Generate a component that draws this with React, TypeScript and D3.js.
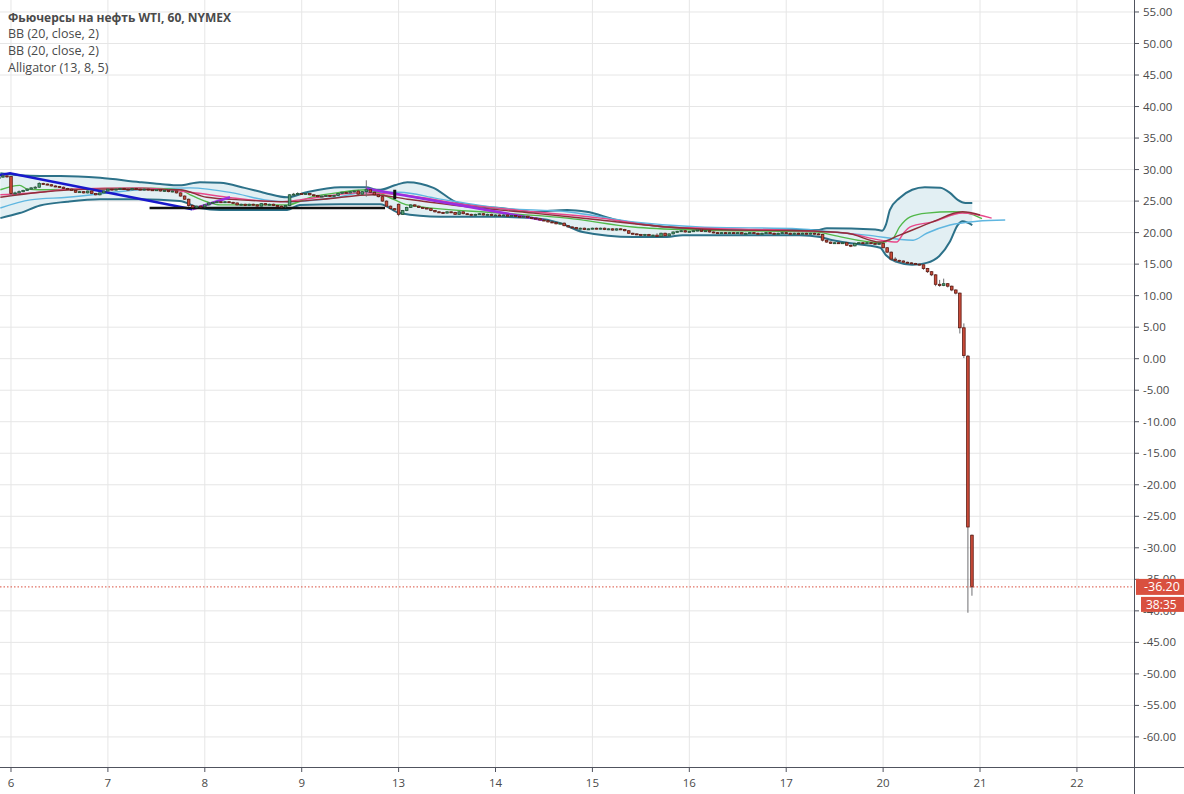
import React from 'react';
import * as d3 from 'd3';

// candles are [open, high, low, close], one per hour
const candlesApr05 = [
  [28.6, 29.0, 28.5, 28.8], [28.8, 29.2, 28.7, 29.0], [29.0, 29.1, 28.7, 28.9],
];
const candlesApr06 = [
  [28.9, 28.9, 25.8, 26.2], [26.2, 26.5, 26.0, 26.3], [26.3, 26.7, 26.2, 26.5], [26.5, 26.8, 26.4, 26.7],
  [26.7, 27.0, 26.6, 26.9], [26.9, 27.2, 26.8, 27.1], [27.1, 27.4, 27.0, 27.2], [27.2, 28.0, 27.1, 27.8],
  [27.8, 27.9, 27.6, 27.7], [27.7, 27.8, 27.5, 27.6], [27.6, 27.7, 27.3, 27.4], [27.4, 27.5, 27.2, 27.3],
  [27.3, 27.4, 27.1, 27.2], [27.2, 27.3, 26.9, 27.0], [27.0, 27.1, 26.8, 26.9], [26.9, 27.0, 26.6, 26.7],
  [26.7, 26.8, 26.3, 26.4], [26.4, 26.6, 26.3, 26.5], [26.5, 26.6, 26.2, 26.3], [26.3, 26.7, 26.2, 26.6],
  [26.6, 26.7, 26.1, 26.2], [26.2, 26.3, 25.9, 26.0], [26.0, 26.4, 25.9, 26.3], [26.3, 26.7, 26.2, 26.6],
];
const candlesApr07 = [
  [26.6, 27.0, 26.5, 26.9], [26.9, 27.0, 26.7, 26.8], [26.8, 27.0, 26.7, 26.9], [26.9, 27.1, 26.8, 27.0],
  [27.0, 27.1, 26.8, 26.9], [26.9, 27.0, 26.7, 26.8], [26.8, 27.1, 26.7, 27.0], [27.0, 27.1, 26.8, 26.9],
  [26.9, 27.0, 26.7, 26.8], [26.8, 27.0, 26.7, 26.9], [26.9, 27.0, 26.7, 26.8], [26.8, 26.9, 26.6, 26.7],
  [26.7, 26.9, 26.6, 26.8], [26.8, 26.9, 26.5, 26.6], [26.6, 26.8, 26.5, 26.7], [26.7, 26.8, 26.4, 26.5],
  [26.5, 26.7, 26.4, 26.6], [26.6, 26.7, 26.2, 26.3], [26.3, 26.4, 25.7, 25.8], [25.8, 25.9, 25.2, 25.3],
  [25.3, 25.4, 24.1, 24.3], [24.3, 24.5, 23.9, 24.0], [24.0, 24.3, 23.9, 24.2], [24.2, 24.3, 24.0, 24.1],
];
const candlesApr08 = [
  [24.1, 24.5, 24.0, 24.4], [24.4, 24.8, 24.3, 24.7], [24.7, 24.9, 24.6, 24.8], [24.8, 25.0, 24.7, 24.9],
  [24.9, 25.0, 24.7, 24.8], [24.8, 25.0, 24.7, 24.9], [24.9, 25.0, 24.7, 24.8], [24.8, 24.9, 24.6, 24.7],
  [24.7, 24.8, 24.3, 24.4], [24.4, 24.6, 24.3, 24.5], [24.5, 24.6, 24.2, 24.3], [24.3, 24.6, 24.2, 24.5],
  [24.5, 24.6, 24.3, 24.4], [24.4, 24.5, 24.1, 24.2], [24.2, 24.7, 24.1, 24.6], [24.6, 24.7, 24.3, 24.4],
  [24.4, 24.6, 24.3, 24.5], [24.5, 24.6, 24.2, 24.3], [24.3, 24.4, 24.1, 24.2], [24.2, 24.3, 24.0, 24.1],
  [24.1, 24.4, 24.0, 24.3], [24.3, 26.1, 24.2, 26.0], [26.0, 26.3, 25.9, 26.1], [26.1, 26.4, 26.0, 26.2],
];
const candlesApr09 = [
  [26.2, 26.3, 26.0, 26.1], [26.1, 26.3, 26.0, 26.2], [26.2, 26.3, 25.9, 26.0], [26.0, 26.1, 25.8, 25.9],
  [25.9, 26.0, 25.6, 25.7], [25.7, 25.9, 25.6, 25.8], [25.8, 26.0, 25.7, 25.9], [25.9, 26.0, 25.7, 25.8],
  [25.8, 26.0, 25.7, 25.9], [25.9, 26.3, 25.8, 26.2], [26.2, 26.5, 26.1, 26.4], [26.4, 26.5, 26.2, 26.3],
  [26.3, 26.6, 26.2, 26.5], [26.5, 26.7, 26.4, 26.6], [26.6, 26.8, 26.0, 26.1], [26.1, 26.6, 26.0, 26.5],
  [26.5, 28.3, 25.7, 26.8], [26.8, 26.9, 26.3, 26.4], [26.4, 26.5, 25.9, 26.0], [26.0, 26.1, 25.6, 25.7],
  [25.7, 25.8, 24.9, 25.0], [25.0, 25.1, 24.1, 24.2], [24.2, 24.3, 23.7, 23.8], [23.8, 23.9, 23.5, 23.6],
];
const candlesApr13 = [
  [24.5, 24.6, 22.6, 22.9], [22.9, 23.6, 22.8, 23.5], [23.5, 24.1, 23.4, 24.0], [24.0, 24.5, 23.9, 24.4],
  [24.4, 24.5, 24.1, 24.2], [24.2, 24.3, 23.9, 24.0], [24.0, 24.1, 23.8, 23.9], [23.9, 24.0, 23.7, 23.8],
  [23.8, 23.9, 23.4, 23.5], [23.5, 23.6, 23.2, 23.3], [23.3, 23.4, 23.1, 23.2], [23.2, 23.3, 23.0, 23.1],
  [23.1, 23.4, 23.0, 23.3], [23.3, 23.4, 23.1, 23.2], [23.2, 23.3, 22.8, 22.9], [22.9, 23.4, 22.8, 23.3],
  [23.3, 23.4, 22.9, 23.0], [23.0, 23.1, 22.8, 22.9], [22.9, 23.0, 22.7, 22.8], [22.8, 23.0, 22.7, 22.9],
  [22.9, 23.1, 22.8, 23.0], [23.0, 23.1, 22.7, 22.8], [22.8, 23.0, 22.7, 22.9], [22.9, 23.0, 22.6, 22.7],
];
const candlesApr14 = [
  [22.7, 22.9, 22.6, 22.8], [22.8, 22.9, 22.6, 22.7], [22.7, 22.9, 22.6, 22.8], [22.8, 22.9, 22.5, 22.6],
  [22.6, 22.8, 22.5, 22.7], [22.7, 22.8, 22.5, 22.6], [22.6, 22.7, 22.4, 22.5], [22.5, 22.7, 22.4, 22.6],
  [22.6, 22.7, 22.3, 22.4], [22.4, 22.5, 22.2, 22.3], [22.3, 22.4, 22.1, 22.2], [22.2, 22.3, 21.9, 22.0],
  [22.0, 22.1, 21.8, 21.9], [21.9, 22.0, 21.6, 21.7], [21.7, 21.8, 21.5, 21.6], [21.6, 21.7, 21.3, 21.4],
  [21.4, 21.6, 21.3, 21.5], [21.5, 21.6, 21.0, 21.1], [21.1, 21.2, 20.8, 20.9], [20.9, 21.0, 20.7, 20.8],
  [20.8, 20.9, 20.5, 20.6], [20.6, 20.8, 20.5, 20.7], [20.7, 20.8, 20.4, 20.5], [20.5, 20.7, 20.4, 20.6],
];
const candlesApr15 = [
  [20.6, 20.8, 20.5, 20.7], [20.7, 20.8, 20.5, 20.6], [20.6, 20.8, 20.5, 20.7], [20.7, 20.8, 20.4, 20.5],
  [20.5, 20.7, 20.4, 20.6], [20.6, 20.7, 20.3, 20.4], [20.4, 20.7, 20.3, 20.6], [20.6, 20.7, 20.4, 20.5],
  [20.5, 20.6, 20.2, 20.3], [20.3, 20.4, 19.8, 19.9], [19.9, 20.0, 19.7, 19.8], [19.8, 19.9, 19.6, 19.7],
  [19.7, 19.8, 19.5, 19.6], [19.6, 19.8, 19.5, 19.7], [19.7, 19.8, 19.4, 19.5], [19.5, 19.7, 19.4, 19.6],
  [19.6, 19.9, 19.3, 19.4], [19.4, 20.0, 19.3, 19.9], [19.9, 20.0, 19.4, 19.5], [19.5, 19.9, 19.4, 19.8],
  [19.8, 20.2, 19.7, 20.1], [20.1, 20.3, 20.0, 20.2], [20.2, 20.4, 20.1, 20.3], [20.3, 20.4, 20.0, 20.1],
];
const candlesApr16 = [
  [20.1, 20.3, 20.0, 20.2], [20.2, 20.4, 20.1, 20.3], [20.3, 20.5, 20.2, 20.4], [20.4, 20.5, 20.1, 20.2],
  [20.2, 20.4, 20.1, 20.3], [20.3, 20.4, 20.0, 20.1], [20.1, 20.2, 19.9, 20.0], [20.0, 20.1, 19.8, 19.9],
  [19.9, 20.1, 19.8, 20.0], [20.0, 20.1, 19.8, 19.9], [19.9, 20.1, 19.8, 20.0], [20.0, 20.1, 19.8, 19.9],
  [19.9, 20.1, 19.8, 20.0], [20.0, 20.1, 19.7, 19.8], [19.8, 20.0, 19.7, 19.9], [19.9, 20.1, 19.8, 20.0],
  [20.0, 20.1, 19.8, 19.9], [19.9, 20.0, 19.7, 19.8], [19.8, 20.0, 19.7, 19.9], [19.9, 20.1, 19.8, 20.0],
  [20.0, 20.1, 19.8, 19.9], [19.9, 20.0, 19.7, 19.8], [19.8, 20.0, 19.7, 19.9], [19.9, 20.1, 19.8, 20.0],
];
const candlesApr17 = [
  [20.0, 20.1, 19.8, 19.9], [19.9, 20.0, 19.7, 19.8], [19.8, 20.0, 19.7, 19.9], [19.9, 20.0, 19.7, 19.8],
  [19.8, 20.0, 19.7, 19.9], [19.9, 20.0, 19.7, 19.8], [19.8, 20.0, 19.7, 19.9], [19.9, 20.0, 19.7, 19.8],
  [19.8, 19.9, 19.6, 19.7], [19.7, 19.8, 18.6, 18.8], [18.8, 18.9, 18.4, 18.5], [18.5, 18.6, 18.2, 18.3],
  [18.3, 18.5, 18.2, 18.4], [18.4, 18.5, 18.2, 18.3], [18.3, 18.5, 18.2, 18.4], [18.4, 18.5, 17.9, 18.0],
  [18.0, 18.1, 17.7, 17.9], [17.9, 18.4, 17.8, 18.3], [18.3, 18.5, 18.2, 18.4], [18.4, 18.5, 18.2, 18.3],
  [18.3, 18.5, 18.2, 18.4], [18.4, 18.5, 18.2, 18.3], [18.3, 18.4, 18.1, 18.2], [18.2, 18.4, 18.1, 18.3],
];
const candlesApr20 = [
  [18.3, 18.3, 17.5, 17.6], [17.6, 17.7, 16.8, 16.9], [16.9, 17.0, 15.6, 15.8], [15.8, 16.1, 15.3, 15.6],
  [15.6, 15.7, 15.3, 15.5], [15.5, 15.6, 15.2, 15.3], [15.3, 15.4, 15.1, 15.2], [15.2, 15.3, 15.0, 15.1],
  [15.1, 15.2, 14.9, 15.0], [15.0, 15.1, 14.8, 14.9], [14.9, 15.0, 14.1, 14.3], [14.3, 14.4, 13.6, 13.8],
  [13.8, 13.9, 13.1, 13.3], [13.3, 13.4, 11.5, 11.8], [11.8, 12.5, 11.4, 11.6], [11.6, 12.7, 11.5, 11.9],
  [11.9, 12.0, 11.3, 11.5], [11.5, 11.6, 10.7, 10.9], [10.9, 11.0, 10.2, 10.4], [10.4, 10.5, 4.0, 4.9],
  [4.9, 5.6, 0.1, 0.5], [0.4, 0.6, -40.3, -26.7], [-28.0, -27.9, -37.6, -36.2],
];

// day labels on the time axis (index = slot on the axis)
const dayLabels = ['6', '7', '8', '9', '13', '14', '15', '16', '17', '20', '21', '22'];
const sessions: [number, number, number[][]][] = [
  [-1, 21, candlesApr05],
  [0, 0, candlesApr06],
  [1, 0, candlesApr07],
  [2, 0, candlesApr08],
  [3, 0, candlesApr09],
  [4, 0, candlesApr13],
  [5, 0, candlesApr14],
  [6, 0, candlesApr15],
  [7, 0, candlesApr16],
  [8, 0, candlesApr17],
  [9, 0, candlesApr20],
];

const priceTicks = d3.range(-60, 56, 5);
const lastPrice = -36.2;
const countdown = '38:35';

// indicator values: [time in day slots, price]
const bbUpper = [
  [-0.11, 29.4], [0.09, 29.1], [0.3, 29.0], [0.51, 29.0], [0.92, 28.7], [1.33, 28.0], [1.54, 27.7],
  [1.74, 27.5], [1.95, 28.0], [2.16, 27.9], [2.41, 27.1], [2.62, 26.3], [2.85, 25.6], [3.05, 26.4],
  [3.4, 27.2], [3.67, 27.2], [3.74, 26.9], [3.81, 26.8], [3.96, 27.5], [4.09, 28.0], [4.36, 27.1],
  [4.6, 24.8], [4.87, 24.1], [5.05, 23.9], [5.39, 23.3], [5.74, 23.6], [5.94, 23.3], [6.25, 22.0],
  [6.59, 21.2], [6.93, 20.7], [7.45, 20.4], [8.32, 20.4], [8.42, 20.7], [8.92, 20.5], [8.99, 20.3],
  [9.03, 21.3], [9.07, 23.6], [9.17, 25.5], [9.3, 26.8], [9.43, 27.2], [9.59, 27.1], [9.69, 26.3],
  [9.77, 25.2], [9.85, 24.7], [9.92, 24.7],
];
const bbLower = [
  [-0.11, 22.3], [0.09, 23.1], [0.3, 24.3], [0.58, 24.9], [0.92, 25.3], [1.33, 25.3], [1.74, 25.0],
  [1.95, 23.9], [2.16, 23.6], [2.47, 23.6], [2.85, 23.6], [2.98, 24.4], [3.4, 24.5], [3.81, 24.5],
  [4.01, 23.1], [4.43, 22.5], [4.71, 22.5], [5.05, 22.5], [5.39, 22.3], [5.67, 21.5], [5.9, 20.1],
  [6.42, 19.3], [6.77, 19.3], [6.93, 19.6], [7.45, 19.6], [8.14, 19.6], [8.35, 19.3], [8.48, 18.8],
  [8.63, 18.4], [8.83, 18.0], [8.97, 17.6], [9.03, 16.4], [9.13, 15.4], [9.3, 14.9], [9.45, 15.2],
  [9.58, 16.3], [9.69, 18.6], [9.77, 21.2], [9.82, 21.8], [9.92, 21.2],
];
const bbBasis = [
  [-0.11, 25.6], [0.3, 26.4], [0.92, 26.9], [1.74, 26.8], [2.02, 25.6], [2.36, 25.2], [2.85, 24.9],
  [3.22, 25.3], [3.74, 26.0], [4.09, 25.3], [4.71, 24.1], [5.39, 23.1], [6.08, 22.0], [6.77, 20.9],
  [7.45, 20.4], [8.14, 20.3], [8.63, 19.9], [8.97, 18.5], [9.17, 19.6], [9.51, 21.7], [9.82, 23.3],
  [10.0, 22.8],
];
const alligatorJaw = [
  [-0.11, 23.9], [0.2, 25.2], [0.58, 25.6], [1.33, 26.8], [1.85, 27.1], [2.29, 26.3], [2.62, 25.2],
  [2.88, 24.9], [3.32, 25.5], [3.67, 26.4], [4.01, 26.4], [4.4, 25.4], [5.05, 23.9], [5.74, 23.3],
  [6.42, 21.7], [7.11, 20.9], [8.14, 20.6], [8.48, 20.1], [8.83, 19.6], [9.31, 18.8], [9.45, 19.9],
  [9.69, 21.2], [9.97, 21.8], [10.26, 22.0],
];
const alligatorTeeth = [
  [-0.11, 26.0], [0.3, 26.4], [0.58, 26.9], [1.33, 27.1], [1.85, 26.4], [2.29, 25.5], [2.78, 24.9],
  [2.98, 25.2], [3.6, 26.3], [4.01, 26.0], [4.71, 24.4], [5.39, 23.3], [6.08, 22.3], [6.77, 20.9],
  [7.45, 20.6], [8.14, 20.3], [8.63, 19.9], [8.97, 18.8], [9.14, 18.5], [9.21, 19.9], [9.28, 20.9],
  [9.51, 21.7], [9.82, 23.1], [10.12, 22.3],
];
const alligatorLips = [
  [-0.11, 26.8], [0.09, 27.5], [0.17, 26.9], [0.3, 26.8], [1.33, 27.1], [1.74, 26.8], [1.85, 26.0],
  [2.02, 24.9], [2.16, 24.4], [2.85, 24.4], [3.09, 25.6], [3.4, 26.4], [3.67, 26.8], [3.96, 25.2],
  [4.09, 24.4], [5.05, 23.1], [5.74, 22.3], [6.42, 20.9], [7.11, 20.4], [8.32, 20.1], [8.48, 19.6],
  [8.97, 18.4], [9.1, 19.1], [9.17, 20.9], [9.28, 22.5], [9.45, 23.1], [9.72, 23.3], [9.87, 23.1],
  [10.02, 22.2],
];

// user drawings
const blueTrend = [[-0.12, 29.1], [-0.01, 29.4], [1.87, 23.7]];
const purpleTrends = [
  [[1.87, 23.7], [2.26, 25.6]],
  [[3.66, 27.0], [5.49, 22.0]],
];
const blackLevel = [[1.43, 23.9], [3.86, 23.9]];
const blackMark = [[3.96, 26.8], [3.96, 25.3]];

const legend = ['BB (20, close, 2)', 'BB (20, close, 2)', 'Alligator (13, 8, 5)'];

const W = 1184;
const H = 794;
const plotW = 1134;
const plotH = 767;
const font = '"Open Sans", "Noto Sans", sans-serif';

export default function App() {
  const x = d3.scaleLinear().domain([-0.1135, 11.589]).range([0, plotW]);
  const y = d3.scaleLinear().domain([56.9, -64.77]).range([0, plotH]);

  const smooth = d3.line<number[]>().x(d => x(d[0])).y(d => y(d[1])).curve(d3.curveMonotoneX);
  const straight = d3.line<number[]>().x(d => x(d[0])).y(d => y(d[1]));

  const candles = sessions.flatMap(([day, start, list]) =>
    list.map((c, i) => ({ t: day + (start + i) / 24, o: c[0], h: c[1], l: c[2], c: c[3] }))
  );

  const upperPath = smooth(bbUpper) || '';
  const lowerBack = (smooth([...bbLower].reverse()) || '').replace(/^M/, 'L');
  const bandFill = upperPath + lowerBack + 'Z';

  const bodyW = 2.6;

  return (
    <svg width={W} height={H} style={{ position: 'absolute', left: 0, top: 0, background: '#fff' }}>
      <g>
        {priceTicks.map(v => (
          <line key={'gy' + v} x1={0} x2={plotW} y1={y(v)} y2={y(v)} stroke="#e6e6e6" />
        ))}
        {dayLabels.map((d, i) => (
          <line key={'gx' + i} x1={x(i)} x2={x(i)} y1={0} y2={plotH} stroke="#e6e6e6" />
        ))}
      </g>

      <path d={bandFill} fill="#e2eff3" />
      <path d={upperPath} fill="none" stroke="#2c7189" strokeWidth={2} />
      <path d={smooth(bbLower) || ''} fill="none" stroke="#2c7189" strokeWidth={2} />

      <path d={smooth(alligatorJaw) || ''} fill="none" stroke="#5fb6e0" strokeWidth={1.4} />
      <path d={smooth(alligatorLips) || ''} fill="none" stroke="#52b84a" strokeWidth={1.4} />
      <path d={smooth(alligatorTeeth) || ''} fill="none" stroke="#e8488a" strokeWidth={1.4} />
      <path d={smooth(bbBasis) || ''} fill="none" stroke="#8e2f3a" strokeWidth={1.4} />

      <path d={straight(blueTrend) || ''} fill="none" stroke="#1818cc" strokeWidth={2.5} />
      {purpleTrends.map((p, i) => (
        <path key={'pt' + i} d={straight(p) || ''} fill="none" stroke="#9a2ee0" strokeWidth={2.5} />
      ))}
      <path d={straight(blackLevel) || ''} fill="none" stroke="#111" strokeWidth={2.5} />
      <path d={straight(blackMark) || ''} fill="none" stroke="#111" strokeWidth={3} />

      <g>
        {candles.map((d, i) => {
          const up = d.c >= d.o;
          const cx = x(d.t);
          const top = y(Math.max(d.o, d.c));
          const bh = Math.max(1, y(Math.min(d.o, d.c)) - top);
          return (
            <g key={'c' + i}>
              <line x1={cx} x2={cx} y1={y(d.h)} y2={y(d.l)} stroke="#6f6f72" strokeWidth={1} />
              <rect
                x={cx - bodyW / 2}
                y={top}
                width={bodyW}
                height={bh}
                fill={up ? '#4f9a72' : '#c94a38'}
                stroke={up ? '#225437' : '#5b1a13'}
                strokeWidth={0.8}
              />
            </g>
          );
        })}
      </g>

      <line x1={0} x2={plotW} y1={y(lastPrice)} y2={y(lastPrice)} stroke="#d9503f" strokeDasharray="1.5,2" />

      <line x1={plotW + 0.5} x2={plotW + 0.5} y1={0} y2={H} stroke="#50535e" />
      <line x1={0} x2={W} y1={plotH + 0.5} y2={plotH + 0.5} stroke="#50535e" />

      <g fontFamily={font} fontSize={11.5} fill="#4a4a4a">
        {priceTicks.map(v => (
          <g key={'ty' + v}>
            <line x1={plotW} x2={plotW + 5} y1={y(v)} y2={y(v)} stroke="#50535e" />
            <text x={plotW + 9} y={y(v)} dy="0.35em">{v.toFixed(2)}</text>
          </g>
        ))}
        {dayLabels.map((d, i) => (
          <g key={'tx' + i}>
            <line x1={x(i)} x2={x(i)} y1={plotH} y2={plotH + 5} stroke="#50535e" />
            <text x={x(i)} y={plotH + 20} textAnchor="middle">{d}</text>
          </g>
        ))}
      </g>

      <rect x={plotW + 2} y={y(lastPrice) - 8} width={W - plotW - 2} height={16} fill="#d9503f" />
      <text x={plotW + 10} y={y(lastPrice)} dy="0.36em" fontFamily={font} fontSize={12.5} fill="#fff">
        {lastPrice.toFixed(2)}
      </text>
      <rect x={plotW + 7} y={y(lastPrice) + 10} width={W - plotW - 7} height={15} fill="#d9503f" />
      <text x={plotW + 12} y={y(lastPrice) + 17.5} dy="0.36em" fontFamily={font} fontSize={12} fill="#fff">
        {countdown}
      </text>

      <g fontFamily={font} fill="#4a4a4a">
        <text x={8} y={21.5} fontSize={12} fontWeight="bold">Фьючерсы на нефть WTI, 60, NYMEX</text>
        {legend.map((s, i) => (
          <text key={'lg' + i} x={8} y={37.5 + i * 17.3} fontSize={12.5}>{s}</text>
        ))}
      </g>
    </svg>
  );
}
